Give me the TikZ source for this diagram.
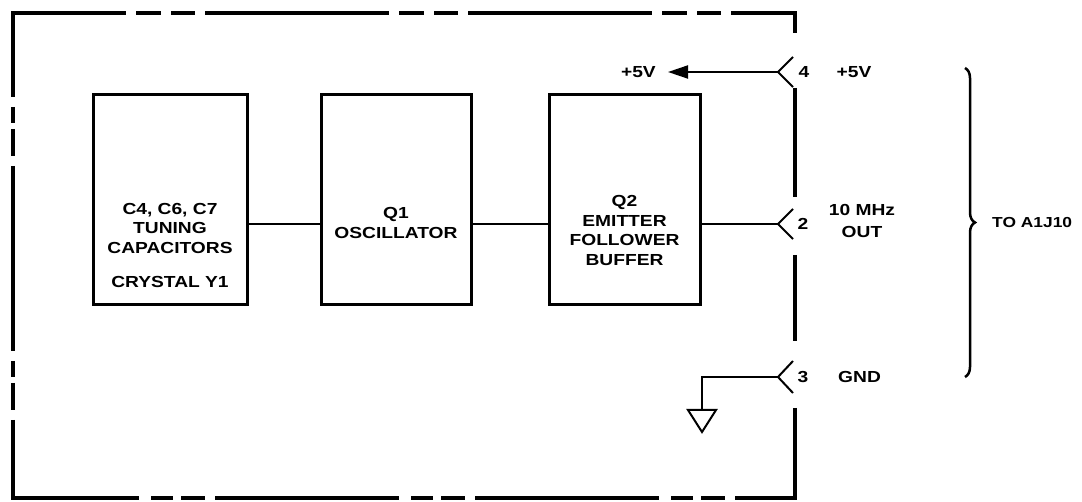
\documentclass[tikz,border=0pt]{standalone}
\usepackage{fontspec}
\setmainfont{Liberation Sans}[FakeStretch=1.2]
\usetikzlibrary{arrows.meta,decorations.pathreplacing}
\begin{document}
\begin{tikzpicture}[x=1pt,y=-1pt,
  every node/.style={font=\fontsize{16}{19.5}\selectfont\bfseries, inner sep=0pt},
  blockbox/.style={draw, line width=3pt, minimum height=210pt},
  border/.style={line width=4pt},
  wire/.style={line width=2pt},
  pinmark/.style={line width=2pt}]
\useasboundingbox (0,0) rectangle (1082,502);

% unit border (phantom line)
\draw[border, dash pattern=on 184pt off 10pt on 25pt off 10pt on 24pt off 10pt, dash phase=71pt] (13,13) -- (795,13);
\draw[border, dash pattern=on 185pt off 10pt on 16pt off 6pt on 27pt off 10pt, dash phase=101pt] (13,13) -- (13,498);
\draw[border, dash pattern=on 184pt off 12pt on 22pt off 8pt on 24pt off 10pt, dash phase=58pt] (13,498) -- (795,498);
\draw[border] (13,60) -- (13,13) -- (60,13);
\draw[border] (13,470) -- (13,498) -- (60,498);
\draw[border] (760,13) -- (795,13) -- (795,33);
\draw[border] (795,88) -- (795,197);
\draw[border] (795,255) -- (795,341);
\draw[border] (795,408) -- (795,498) -- (760,498);

% blocks
\node[blockbox, minimum width=154pt] (b1) at (170,200) {};
\node[blockbox, minimum width=150pt] (b2) at (396,200) {};
\node[blockbox, minimum width=151pt] (b3) at (624.5,200) {};
\node[align=center] (t1) at (170,228) {C4, C6, C7\\TUNING\\CAPACITORS};
\node (t1b) at (170,282) {CRYSTAL Y1};
\node[align=center] (t2) at (396,223) {Q1\\OSCILLATOR};
\node[align=center] (t3) at (624.5,230.5) {Q2\\EMITTER\\FOLLOWER\\BUFFER};

% connector pins
\coordinate (c4) at (778,72);
\coordinate (c2) at (778,224);
\coordinate (c3) at (778,377);
\draw[pinmark] ([shift={(15,-15)}]c4) -- (c4) -- ([shift={(15,15)}]c4);
\draw[pinmark] ([shift={(15,-15)}]c2) -- (c2) -- ([shift={(15,15)}]c2);
\draw[pinmark] ([shift={(15,-16)}]c3) -- (c3) -- ([shift={(15,16)}]c3);
\node (n4) at (804,72) {4};
\node (n2) at (803,224) {2};
\node (n3) at (803,377) {3};
\node (r4) at (854,72) {+5V};
\node[align=center, font=\fontsize{16}{22}\selectfont\bfseries] (r2) at (862,221) {10 MHz\\OUT};
\node[anchor=west] (r3) at (838,377) {GND};

% signal path
\draw[wire] (b1.east |- c2) -- (b2.west |- c2);
\draw[wire] (b2.east |- c2) -- (b3.west |- c2);
\draw[wire] (b3.east |- c2) -- (c2);

% +5V
\node[anchor=east] (l4) at (656,72) {+5V};
\draw[wire, -{Triangle[length=20pt,width=13pt]}, shorten >=12pt] (c4) -- (l4.east);

% ground
\coordinate (g) at (702,410);
\draw[wire] (c3) -| (g);
\draw[wire, line join=miter] (g) ++(-14,0) -- ++(28,0) -- ++(-14,22) -- cycle;

% brace
\draw[line width=2.5pt, decorate, decoration={brace, amplitude=10pt}] (965,68) -- (965,377);
\node[anchor=west, font=\fontsize{14.5}{18}\selectfont\bfseries] (to) at (992,223) {TO A1J10};
\end{tikzpicture}
\end{document}
